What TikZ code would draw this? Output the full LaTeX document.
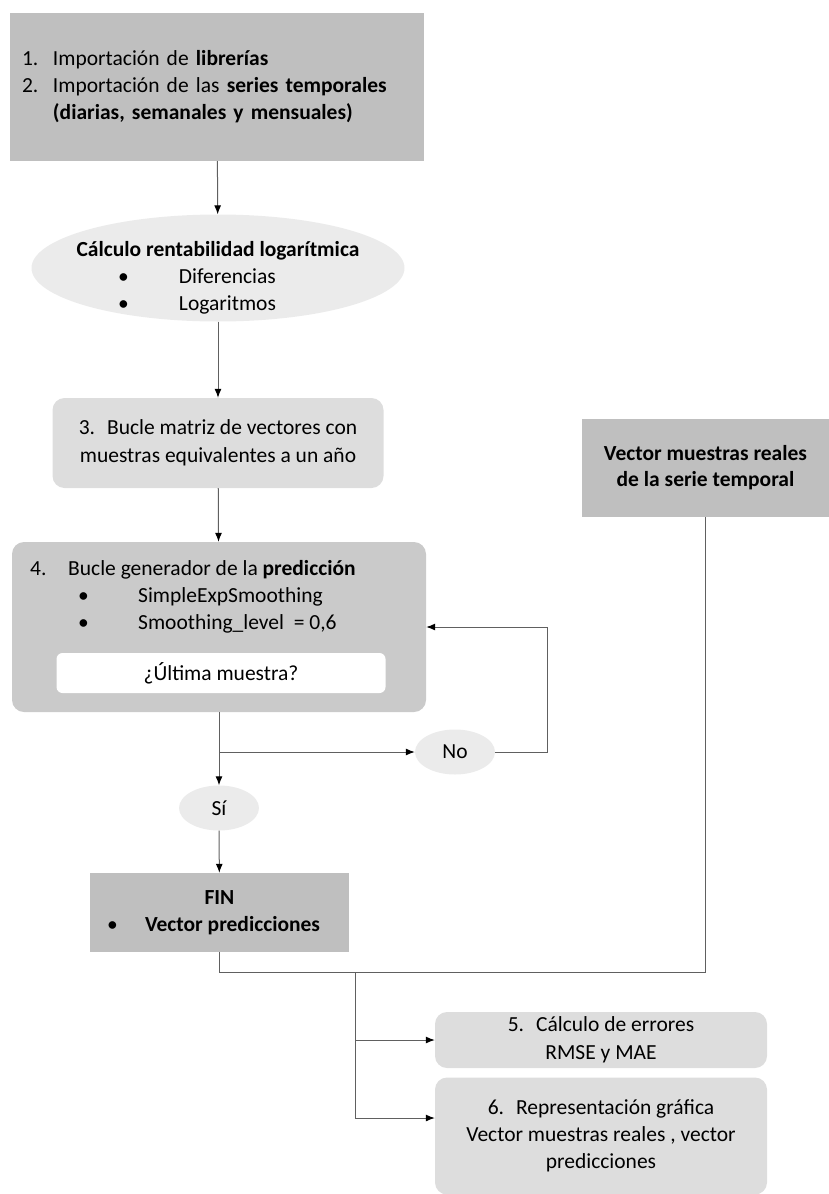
\documentclass[tikz,border=0pt]{standalone}
\usepackage{fontspec}
\setmainfont{Carlito}
\usetikzlibrary{shapes.geometric, arrows.meta}

\definecolor{grisosc}{HTML}{BFBFBF}
\definecolor{grismed}{HTML}{CACACA}
\definecolor{grisclaro}{HTML}{DDDDDD}
\definecolor{grisel}{HTML}{EBEBEB}
\definecolor{linea}{HTML}{606060}

\begin{document}
\begin{tikzpicture}[x=1pt, y=-1pt,
  font=\fontsize{21.5}{27}\selectfont,
  cajaosc/.style={rectangle, fill=grisosc, inner sep=0pt},
  cajared/.style={rectangle, rounded corners=12pt, fill=grisclaro, inner sep=0pt},
  elip/.style={ellipse, fill=grisel, inner sep=0pt},
  flecha/.style={draw=linea, line width=1pt, -{Latex[length=9pt, width=7pt, color=black]}},
  linea/.style={draw=linea, line width=1pt}]
\useasboundingbox (0,0) rectangle (829,1194);

% importacion
\node[cajaosc, minimum width=414pt, minimum height=148pt, text width=390pt, align=left] (imp) at (217,87) {%
  \makebox[31pt][l]{1.}Importación de \textbf{librerías}\\
  \makebox[31pt][l]{2.}Importación de las \textbf{series temporales}\\
  \hspace*{31pt}\textbf{(diarias, semanales y mensuales)}};

% rentabilidad
\node[elip, minimum width=373pt, minimum height=107pt] (rent) at (218,268) {};
\node[align=center, inner sep=0pt] (renttxt) at (218,278) {%
  \textbf{Cálculo rentabilidad logarítmica}\\
  \makebox[200pt][l]{\makebox[61pt][l]{\textbullet}Diferencias}\\
  \makebox[200pt][l]{\makebox[61pt][l]{\textbullet}Logaritmos}};

% bucle 3
\node[cajared, minimum width=331pt, minimum height=90pt, align=center, font=\fontsize{21.5}{28}\selectfont] (matriz) at (218,443) {%
  3.\hspace{12pt}Bucle matriz de vectores con\\
  muestras equivalentes a un año};

% bucle 4
\node[cajared, fill=grismed, minimum width=414pt, minimum height=170pt] (bucle) at (219,627) {};
\node[anchor=west, align=left, inner sep=0pt] (bucletxt) at (30,597) {%
  \makebox[38pt][l]{4.}Bucle generador de la \textbf{predicción}\\
  \hspace*{48pt}\makebox[60pt][l]{\textbullet}SimpleExpSmoothing\\
  \hspace*{48pt}\makebox[60pt][l]{\textbullet}Smoothing\_level\ \ = 0,6};
\node[rectangle, rounded corners=6pt, fill=white, minimum width=329pt, minimum height=40pt, inner sep=0pt] (ultima) at (221,673) {¿Última muestra?};

% no / si
\node[elip, minimum width=80pt, minimum height=45pt] (no) at (455,752) {No};
\node[elip, minimum width=80pt, minimum height=45pt] (si) at (219,808) {Sí};

% fin
\node[cajaosc, minimum width=259pt, minimum height=79pt, align=center] (fin) at (219.5,912.5) {%
  \textbf{FIN}\\
  \makebox[225pt][l]{\makebox[38pt][l]{\textbullet}\textbf{Vector predicciones}}};

% vector muestras reales
\node[cajaosc, minimum width=247pt, minimum height=98pt, align=center, font=\fontsize{21.5}{26}\selectfont\bfseries] (reales) at (705.5,468) {%
  Vector muestras reales\\de la serie temporal};

% errores y grafica
\node[cajared, minimum width=332pt, minimum height=56pt, align=center, font=\fontsize{21.5}{28}\selectfont] (errores) at (601,1040) {%
  5.\hspace{12pt}Cálculo de errores\\RMSE y MAE};
\node[cajared, minimum width=332pt, minimum height=117pt, align=center] (grafica) at (601,1136) {%
  6.\hspace{12pt}Representación gráfica\\
  Vector muestras reales , vector\\
  predicciones};

% conectores
\draw[flecha] (imp) -- (rent);
\draw[flecha] (rent) -- (matriz);
\draw[flecha] (matriz) -- (bucle);
\draw[flecha] (bucle) -- (si);
\coordinate (ramaNo) at (219,752);
\draw[flecha] (ramaNo) -- (no);
\draw[flecha] (no.east) -- ++(52,0) |- (bucle.east);
\draw[flecha] (si) -- (fin);
\draw[linea] (fin.south) -- ++(0,20) -| (reales.south);
\coordinate (union) at (355,972);
\draw[flecha] (union) |- (errores.west);
\draw[flecha] (union) |- ([yshift=18pt]grafica.west);

\end{tikzpicture}
\end{document}
